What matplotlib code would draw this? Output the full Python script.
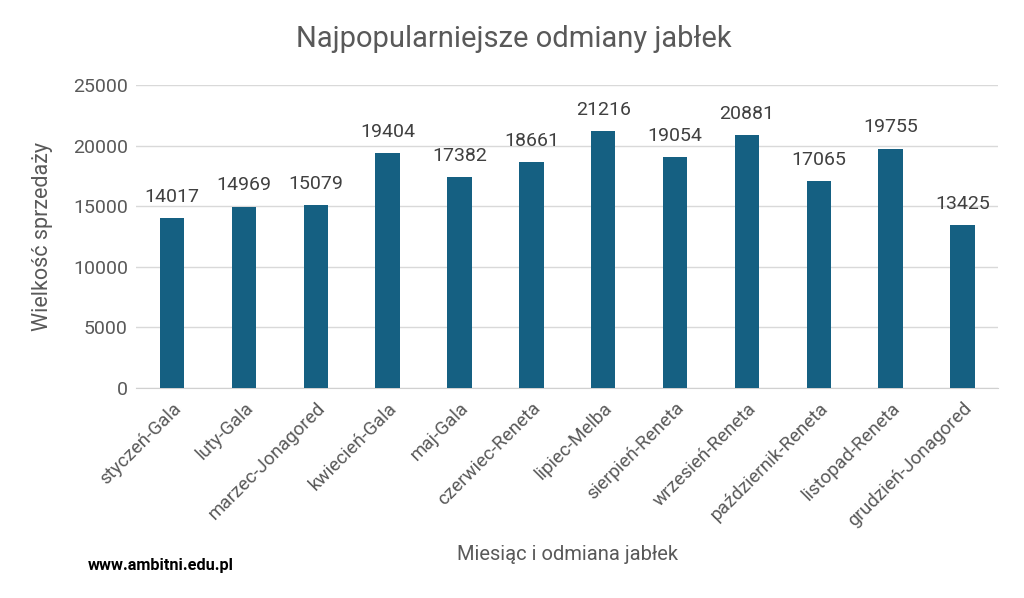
import matplotlib
matplotlib.use("Agg")
import matplotlib.pyplot as plt

categories = ["styczeń-Gala", "luty-Gala", "marzec-Jonagored", "kwiecień-Gala",
              "maj-Gala", "czerwiec-Reneta", "lipiec-Melba", "sierpień-Reneta",
              "wrzesień-Reneta", "październik-Reneta", "listopad-Reneta",
              "grudzień-Jonagored"]
values = [14017, 14969, 15079, 19404, 17382, 18661, 21216, 19054, 20881,
          17065, 19755, 13425]
yticks = [0, 5000, 10000, 15000, 20000, 25000]

plt.rcParams['font.family'] = ['Roboto', 'DejaVu Sans']
gray = '#595959'
bar_color = '#156082'

fig = plt.figure(figsize=(10.24, 5.98), dpi=100)
ax = fig.add_axes([0.133, 0.351, 0.842, 0.507])

x = range(len(categories))
ax.bar(x, values, width=0.34, color=bar_color, zorder=3)
for i, v in enumerate(values):
    ax.text(i, v + 1000, str(v), ha='center', va='bottom', fontsize=14, color='#404040')

ax.set_xlim(-0.5, len(categories) - 0.5)
ax.set_ylim(0, 25000)
ax.set_yticks(yticks)
ax.set_yticklabels([str(t) for t in yticks], fontsize=14, color=gray)
ax.set_xticks(list(x))
ax.set_xticklabels(categories, rotation=45, ha='right', rotation_mode='anchor',
                   fontsize=13.5, color=gray)
ax.tick_params(axis='y', length=0, pad=6)
ax.tick_params(axis='x', length=0, pad=8)
ax.grid(axis='y', color='#d9d9d9', linewidth=1, zorder=0)
for s in ['top', 'right', 'left']:
    ax.spines[s].set_visible(False)
ax.spines['bottom'].set_color('#d0d0d0')

ax.set_ylabel("Wielkość sprzedaży", fontsize=15.5, color=gray, labelpad=14)
fig.text(0.554, 0.072, "Miesiąc i odmiana jabłek", ha='center', va='center',
         fontsize=14.5, color=gray)
fig.text(0.502, 0.935, "Najpopularniejsze odmiany jabłek", ha='center', va='center',
         fontsize=21, color=gray)
fig.text(0.086, 0.055, "www.ambitni.edu.pl", ha='left', va='center',
         fontsize=11.7, fontweight='bold', color='black')

fig.savefig("out.png", dpi=100, facecolor='white')
